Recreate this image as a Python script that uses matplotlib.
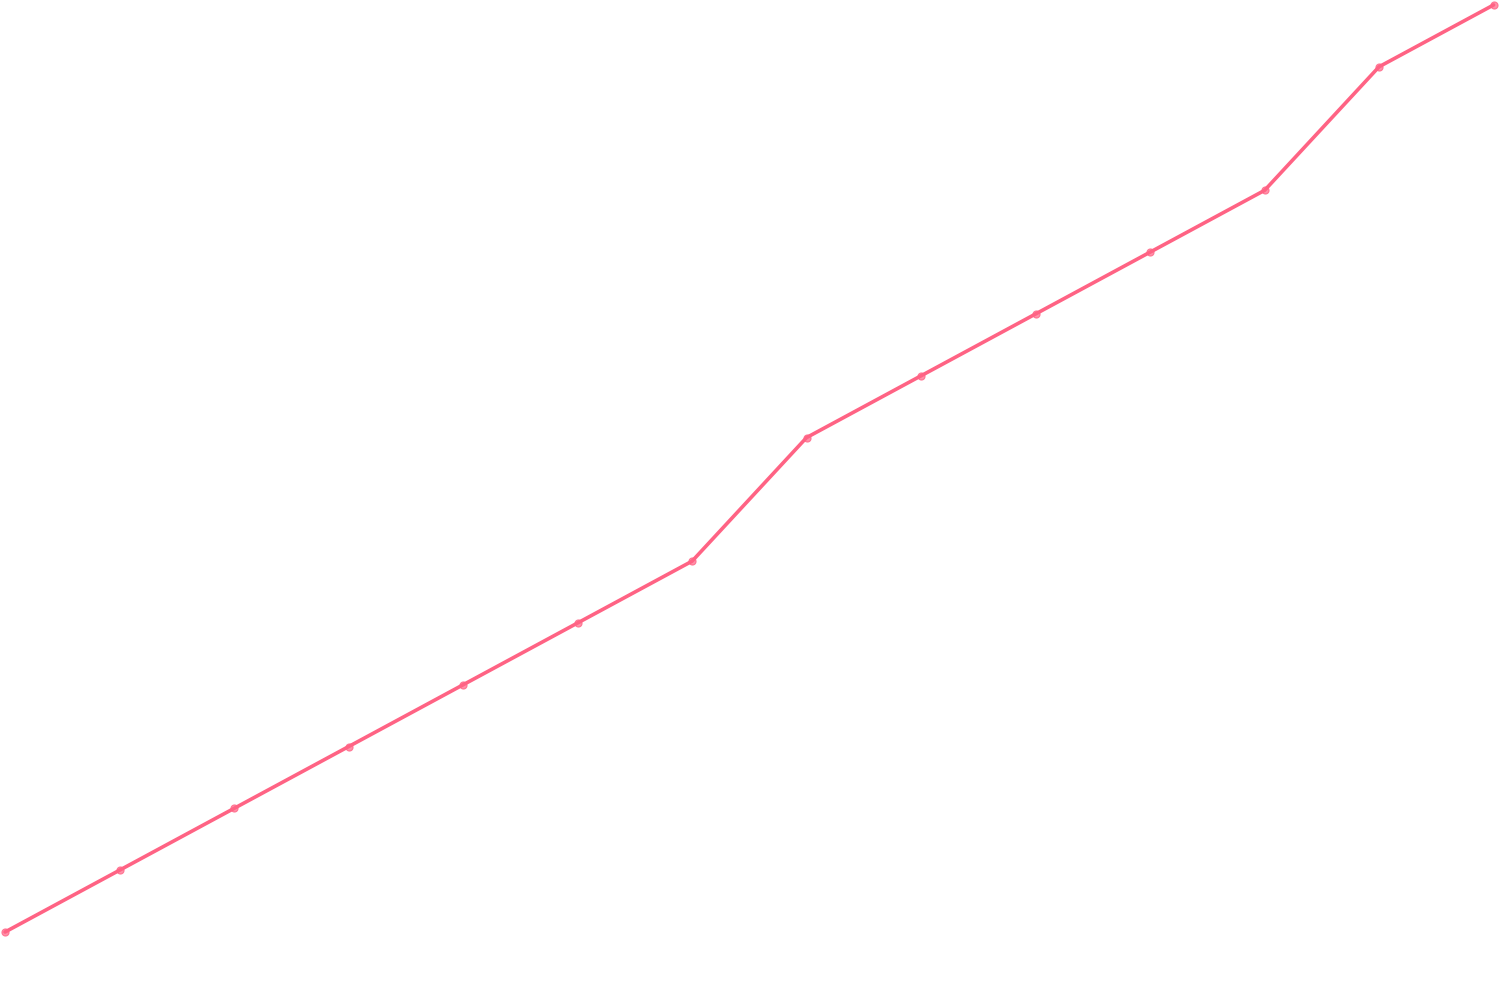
import matplotlib
matplotlib.use("Agg")
import matplotlib.pyplot as plt

labels = list(range(1, 15))
values = [0, 1, 2, 3, 4, 5, 6, 8, 9, 10, 11, 12, 14, 15]

fig = plt.figure(figsize=(15, 10), dpi=100)
ax = fig.add_axes([0, 0, 1, 1])
x = list(range(len(values)))
ax.plot(x, values, color="#FF6384", linewidth=2.6, solid_capstyle="round", zorder=2)
ax.scatter(x, values, s=26, facecolor=(1, 0.39, 0.52, 0.7), edgecolor=(1, 0.39, 0.52, 0.8),
           linewidth=0.8, zorder=3)
ax.set_xlim(-0.044, 13.056)
ax.set_ylim(-1.1, 15.08)
ax.axis("off")
fig.savefig("out.png", dpi=100, facecolor="white")
